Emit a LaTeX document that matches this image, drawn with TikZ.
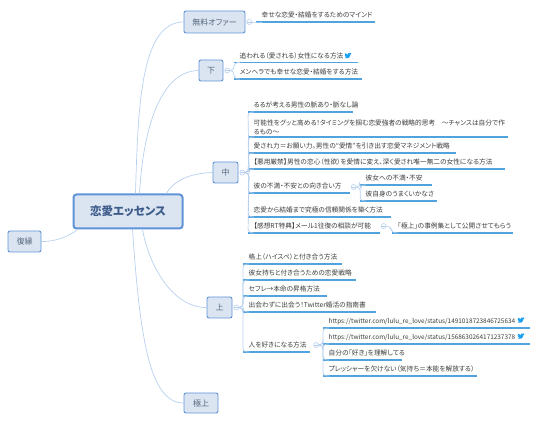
\documentclass[tikz,border=0pt]{standalone}
\usepackage{fontspec}
\usepackage{xcolor}
\usetikzlibrary{positioning,calc}
\newfontfamily\jpfont[RawFeature=+palt]{Noto Sans CJK JP}
\definecolor{boxfill}{HTML}{DBE5F1}
\definecolor{boxline}{HTML}{5F93D8}
\definecolor{twigline}{HTML}{B7D0EF}
\definecolor{boxtext}{HTML}{56667C}
\definecolor{roottext}{HTML}{3E5C8A}
\definecolor{leaftext}{HTML}{3C3C3C}
\definecolor{birdblue}{HTML}{1DA1F2}
\tikzset{
  branch/.style={draw=boxline, fill=boxfill, rounded corners=2pt, line width=0.9pt, text=boxtext, inner sep=0pt, font=\jpfont\fontsize{8}{10}\selectfont},
  leaf/.style={anchor=south west, inner xsep=5.5pt, inner ysep=1.5pt, text width=#1pt-11pt, align=left, text=leaftext, font=\jpfont\fontsize{6.7}{9}\selectfont, execute at begin node=\strut},
  uline/.style={draw=boxline!85!cyan, line width=1.1pt},
  twig/.style={draw=twigline, line width=0.7pt, to path={[rounded corners=4pt] -- ++(4,0) -- (\tikztotarget) -- ($(\tikztotarget)+(6,0)$)}},
  limb/.style={draw=twigline, line width=0.7pt},
  knob/.style={circle, draw=twigline, fill=white, line width=0.6pt, minimum size=5pt, inner sep=0pt, path picture={\draw[twigline, line width=0.5pt] (path picture bounding box.west) -- (path picture bounding box.east);}},
  bird/.pic={\fill[birdblue] (-3.5,2) .. controls (-1.5,3.2) and (2,2.5) .. (2.4,-1.4) -- (3.5,-2.4) -- (2.3,-2.2) -- (3.2,-3.2) -- (1.9,-2.7) .. controls (0.9,-3.6) and (-0.7,-2.8) .. (-0.3,-1.4) .. controls (-1.6,-1.5) and (-2.5,-2) .. (-3.2,-2.9) .. controls (-3.6,-2) and (-3.3,-1.2) .. (-2.7,-0.8) -- (-3.4,-1) .. controls (-3.3,-0.2) and (-2.9,0.2) .. (-2.3,0.4) -- (-2.9,0.4) .. controls (-2.7,0.9) and (-2.3,1.2) .. (-1.7,1.2) .. controls (-2.2,1.7) and (-2.8,1.9) .. (-3.5,2) -- cycle;},
}
\begin{document}
\begin{tikzpicture}[x=1pt, y=-1pt]
\useasboundingbox (0,0) rectangle (539,422);
% central topic and the six branches
\node[branch, line width=2pt, rounded corners=3pt, minimum width=109pt, minimum height=34pt, text=roottext, font=\jpfont\bfseries\fontsize{11.5}{13}\selectfont] (root) at (128,211.5) {恋愛エッセンス};
\node[branch, minimum width=61pt, minimum height=22pt] (free) at (214.5,22) {無料オファー};
\node[branch, minimum width=24pt, minimum height=21pt] (low) at (211,70.5) {下};
\node[branch, minimum width=25pt, minimum height=21pt] (mid) at (225.5,172.5) {中};
\node[branch, minimum width=25pt, minimum height=21pt] (up) at (219.5,307.5) {上};
\node[branch, minimum width=34pt, minimum height=20pt] (top) at (201,403) {極上};
\node[branch, minimum width=33pt, minimum height=21pt] (back) at (24.5,241.5) {復縁};
\draw[limb] (root.north west)+(63,0) .. controls (138,110) and (140,22) .. (free.west);
\draw[limb] (root.north west)+(67,0) .. controls (143,130) and (160,71) .. (low.west);
\draw[limb] (root.north west)+(94,0) .. controls (175,178) and (195,173) .. (mid.west);
\draw[limb] (root.south west)+(70,0) .. controls (150,270) and (175,308) .. (up.west);
\draw[limb] (root.south west)+(60,0) .. controls (140,340) and (150,403) .. (top.west);
\draw[limb] (root.south west)+(5,0) .. controls (70,236) and (55,242) .. (back.east);
% collapse knobs next to the boxes
\node[knob, right=1pt of free] (freek) {};
\node[knob, right=1pt of low] (lowk) {};
\node[knob, right=1pt of mid] (midk) {};
\node[knob, right=1pt of up] (upk) {};
% first level leaves
\node[leaf=119] (f1) at (256,22) {幸せな恋愛・結婚をするためのマインド};
\node[leaf=124] (l1) at (234,62.5) {追われる（愛される）女性になる方法};
\node[leaf=128] (l2) at (234,79) {メンヘラでも幸せな恋愛・結婚をする方法};
\node[leaf=105] (m1) at (248,112) {るるが考える男性の脈あり・脈なし論};
\node[leaf=260] (m2) at (248,137) {可能性をグッと高める！タイミングを掴む恋愛強者の戦略的思考　～チャンスは自分で作\\るもの～};
\node[leaf=208] (m3) at (248,153) {愛され力＝お願い力。男性の“愛情”を引き出す恋愛マネジメント戦略};
\node[leaf=257] (m4) at (248,169) {【悪用厳禁】男性の恋心（性欲）を愛情に変え、深く愛され唯一無二の女性になる方法};
\node[leaf=102] (m5) at (248,193) {彼の不満・不安との向き合い方};
\node[leaf=143] (m6) at (248,217) {恋愛から結婚まで究極の信頼関係を築く方法};
\node[leaf=132] (m7) at (248,233) {【感想RT特典】メール1往復の相談が可能};
\node[leaf=99] (u1) at (243,264) {格上（ハイスペ）と付き合う方法};
\node[leaf=113] (u2) at (243,280) {彼女持ちと付き合うための恋愛戦略};
\node[leaf=84] (u3) at (243,296) {セフレ→本命の昇格方法};
\node[leaf=133] (u4) at (243,312) {出会わずに出会う！Twitter婚活の指南書};
\node[leaf=67] (u5) at (243,352) {人を好きになる方法};
% second level
\node[knob, right=0.5pt of m5.south east, yshift=6pt] (m5k) {};
\node[knob, right=0.5pt of m7.south east, yshift=7pt] (m7k) {};
\node[knob, right=3pt of u5.south east, yshift=7pt] (u5k) {};
\node[leaf=72] (a1) at (360,185) {彼女への不満・不安};
\node[leaf=77] (a2) at (360,201) {彼自身のうまくいかなさ};
\node[leaf=121] (b1) at (392,233) {「極上」の事例集として公開させてもらう};
\node[leaf=207, font=\jpfont\fontsize{6.4}{9}\selectfont] (c1) at (323,328) {https://twitter.com/lulu\_re\_love/status/1491018723846725634};
\node[leaf=207, font=\jpfont\fontsize{6.4}{9}\selectfont] (c2) at (323,344) {https://twitter.com/lulu\_re\_love/status/1568630264171237378};
\node[leaf=79] (c3) at (323,360) {自分の「好き」を理解してる};
\node[leaf=154] (c4) at (323,376) {プレッシャーを欠けない（気持ち＝本能を解放する）};
\pic at (521,320.5) {bird};
\pic at (521,336.5) {bird};
\pic at (348,56) {bird};
% underlines and twigs
\foreach \n in {f1,l1,l2,m1,m2,m3,m4,m5,m6,m7,u1,u2,u3,u4,u5,a1,a2,b1,c1,c2,c3,c4}
  \draw[uline] (\n.south west) -- (\n.south east);
\draw[twig] (freek.east) to (f1.south west);
\foreach \n in {l1,l2} \draw[twig] (lowk.east) to (\n.south west);
\foreach \n in {m1,m2,m3,m4,m5,m6,m7} \draw[twig] (midk.east) to (\n.south west);
\foreach \n in {u1,u2,u3,u4,u5} \draw[twig] (upk.east) to (\n.south west);
\foreach \n in {a1,a2} \draw[twig] (m5k.east) to (\n.south west);
\draw[twig] (m7k.east) to (b1.south west);
\foreach \n in {c1,c2,c3,c4} \draw[twig] (u5k.east) to (\n.south west);
\end{tikzpicture}
\end{document}
